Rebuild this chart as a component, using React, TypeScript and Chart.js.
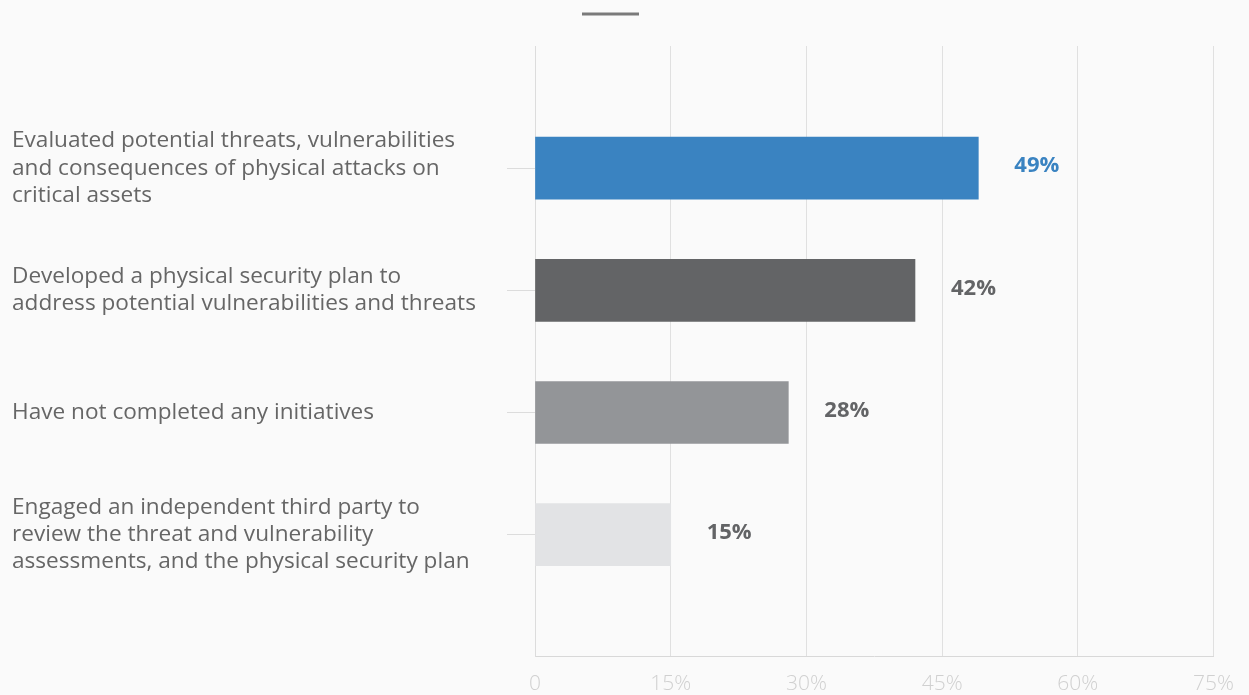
import React, { useEffect, useRef } from "react";
import { Chart, registerables } from "chart.js";

Chart.register(...registerables);

const categories: (string | string[])[] = [
  "",
  ["Evaluated potential threats, vulnerabilities", "and consequences of physical attacks on", "critical assets"],
  ["Developed a physical security plan to", "address potential vulnerabilities and threats"],
  "Have not completed any initiatives",
  ["Engaged an independent third party to", "review the threat and vulnerability", "assessments, and the physical security plan"],
  "",
];
const values: (number | null)[] = [null, 49, 42, 28, 15, null];
const barColors = ["#3a83c1", "#3a83c1", "#636466", "#939598", "#e2e3e5", "#e2e3e5"];
const labelColors = ["#3a83c1", "#3a83c1", "#636466", "#636466", "#636466", "#636466"];
const xTicks = [0, 15, 30, 45, 60, 75];

const FONT = "'Open Sans', sans-serif";

const valueLabelPlugin = {
  id: "valueLabels",
  afterDatasetsDraw(chart: any) {
    const ctx = chart.ctx;
    const meta = chart.getDatasetMeta(0);
    ctx.save();
    ctx.font = `bold 22px ${FONT}`;
    ctx.textAlign = "left";
    ctx.textBaseline = "middle";
    meta.data.forEach((el: any, i: number) => {
      const v = values[i];
      if (v == null) return;
      ctx.fillStyle = labelColors[i];
      ctx.fillText(`${v}%`, el.x + 36, el.y - 2);
    });
    ctx.restore();
  },
};

export default function App() {
  const ref = useRef<HTMLCanvasElement>(null);
  useEffect(() => {
    if (!ref.current) return;
    const last = categories.length - 1;
    const chart = new Chart(ref.current, {
      type: "bar",
      data: {
        labels: categories as any,
        datasets: [
          {
            label: "",
            data: values,
            backgroundColor: barColors,
            barThickness: 62,
          },
        ],
      },
      plugins: [valueLabelPlugin],
      options: {
        indexAxis: "y",
        animation: false,
        responsive: true,
        maintainAspectRatio: false,
        layout: { padding: { left: 12, right: 34, top: 0, bottom: -17 } },
        plugins: {
          tooltip: { enabled: false },
          legend: {
            display: true,
            position: "top",
            labels: {
              boxWidth: 57,
              boxHeight: 3,
              padding: 8,
              font: { size: 12, family: FONT },
              generateLabels: () => [
                { text: "", fillStyle: "#7a7a7a", strokeStyle: "#7a7a7a", lineWidth: 0, hidden: false, datasetIndex: 0 } as any,
              ],
            },
          },
          title: {
            display: true,
            text: "",
            position: "top",
            weight: 500,
            font: { size: 10, lineHeight: 1.2, family: FONT },
            padding: { top: 4, bottom: 0 },
          } as any,
        },
        scales: {
          x: {
            type: "linear",
            min: 0,
            max: 75,
            afterBuildTicks: (scale: any) => {
              scale.ticks = xTicks.map((v) => ({ value: v }));
            },
            ticks: {
              color: "#d0d0d0",
              font: { size: 21, family: FONT, weight: 300 as any },
              padding: 15,
              callback: (v: any) => (v === 0 ? "0" : `${v}%`),
            },
            grid: { color: "#e0e0e0", drawTicks: false, lineWidth: 1 },
            border: { color: "#d8d8d8" },
          },
          y: {
            type: "category",
            offset: false,
            afterFit: (scale: any) => {
              scale.width = 523;
            },
            ticks: {
              crossAlign: "far",
              color: "#666666",
              font: { size: 22.6, family: FONT, lineHeight: 1.2 },
              padding: 6,
            },
            grid: {
              offset: false,
              drawOnChartArea: false,
              tickLength: 28,
              color: (c: any) => (c.index === 0 || c.index === last ? "rgba(0,0,0,0)" : "#dcdcdc"),
            },
            border: { color: "#dcdcdc" },
          },
        },
      },
    });
    return () => chart.destroy();
  }, []);
  return (
    <div style={{ position: "fixed", left: 0, top: 0, width: "100vw", height: "100vh", background: "#fafafa" }}>
      <canvas ref={ref} />
    </div>
  );
}
